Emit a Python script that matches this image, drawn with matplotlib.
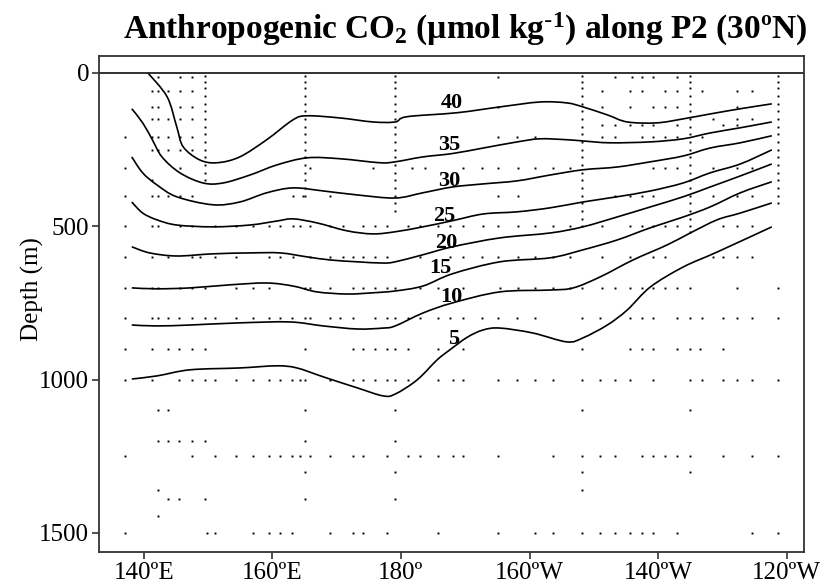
import matplotlib
matplotlib.use("Agg")
import matplotlib.pyplot as plt
from matplotlib.path import Path
from matplotlib.patches import PathPatch

plt.rcParams["font.family"] = ["Liberation Serif", "DejaVu Serif"]
plt.rcParams["mathtext.default"] = "regular"

# contour lines of anthropogenic CO2 (umol/kg): longitude (deg E) and depth (m)
c40_lon = [140.6, 143.6, 145.1, 146.1, 148.7, 151.4, 154.9, 159.1, 163.2, 165.4, 170.5, 175.6, 179.1, 180.9,
           188.7, 195.4, 201.6, 205.8, 208.3, 212.1, 215.2, 219.8, 223.9, 228.1, 232.8, 237.7]
c40_dep = [0, 78, 176, 241, 284, 293, 274, 218, 153, 140, 147, 160, 160, 143,
           130, 111, 95, 98, 111, 137, 160, 163, 150, 134, 117, 101]

c35_lon = [138.1, 139.8, 141.3, 142.8, 145.6, 149.2, 152.3, 156.5, 160.7, 165.4, 170.5, 176.7, 179.1, 183.4,
           188.0, 192.8, 198.1, 201.6, 205.8, 208.3, 212.5, 218.8, 223.9, 228.1, 232.8, 237.7]
c35_dep = [117, 163, 218, 274, 326, 359, 359, 333, 300, 277, 280, 293, 290, 274,
           263, 245, 225, 215, 218, 222, 228, 225, 215, 196, 179, 160]

c30_lon = [138.1, 139.8, 142.0, 145.1, 150.7, 154.9, 159.1, 163.2, 167.9, 173.2, 179.1, 183.4, 188.0, 192.8,
           198.1, 203.2, 208.3, 213.6, 218.8, 223.9, 228.1, 232.8, 237.7]
c30_dep = [274, 326, 365, 404, 430, 421, 391, 375, 385, 398, 408, 391, 372, 362,
           352, 333, 316, 307, 290, 271, 245, 228, 205]

c25_lon = [138.1, 139.8, 142.0, 145.1, 150.7, 156.5, 160.7, 163.2, 166.9, 171.6, 175.6, 179.1, 183.4, 188.0,
           192.8, 198.1, 203.2, 208.3, 213.6, 218.8, 223.9, 228.1, 232.8, 237.7]
c25_dep = [421, 457, 479, 496, 502, 496, 483, 476, 489, 515, 525, 518, 502, 482,
           460, 453, 440, 421, 404, 385, 359, 326, 297, 251]

c20_lon = [138.1, 140.9, 145.1, 150.7, 156.5, 161.2, 165.4, 169.0, 173.2, 177.2, 179.1, 183.4, 188.0, 195.4,
           203.2, 208.3, 213.6, 218.8, 223.9, 228.1, 232.8, 237.7]
c20_dep = [567, 587, 597, 590, 587, 587, 600, 610, 616, 620, 616, 593, 567, 538,
           522, 502, 470, 437, 404, 372, 336, 297]

c15_lon = [138.1, 142.0, 147.2, 153.4, 159.1, 163.2, 166.9, 171.6, 175.6, 179.1, 183.4, 188.0, 195.4, 203.2,
           208.3, 213.6, 218.8, 223.9, 228.1, 232.8, 237.7]
c15_dep = [701, 704, 701, 691, 685, 695, 714, 721, 717, 711, 695, 655, 616, 603,
           577, 545, 505, 470, 437, 391, 355]

c10_lon = [138.1, 142.0, 147.2, 154.9, 162.7, 167.9, 173.2, 177.2, 179.1, 183.4, 188.0, 195.4, 203.2, 206.8,
           211.0, 216.1, 221.4, 225.0, 229.2, 232.8, 237.7]
c10_dep = [822, 825, 822, 815, 812, 825, 835, 832, 825, 783, 750, 714, 708, 701,
           665, 610, 561, 522, 479, 457, 424]

c5_lon = [138.1, 142.0, 147.2, 154.9, 160.7, 163.8, 167.9, 173.2, 177.2, 179.1, 182.5, 185.6, 187.6, 190.3,
          192.8, 195.4, 200.5, 205.8, 208.3, 212.1, 215.2, 218.8, 223.9, 229.2, 237.7]
c5_dep = [998, 988, 968, 962, 955, 962, 991, 1027, 1053, 1047, 1001, 936, 903, 862,
          838, 832, 848, 877, 864, 822, 773, 698, 633, 584, 502]

levels = [40, 35, 30, 25, 20, 15, 10, 5]
label_lon = [187.9, 187.5, 187.5, 186.7, 187.0, 186.2, 187.8, 188.2]
label_dep = [98, 235, 352, 466, 554, 636, 730, 867]

# bottle samples: rows of roughly constant depth
row_depths = [15, 60, 110, 150, 170, 210, 250, 310, 350, 400, 500, 600, 700, 800, 900, 1000,
              1100, 1200, 1250, 1300, 1360, 1390, 1445, 1500]
row_lons = [
    [142.2, 145.6, 147.5, 195.1, 213.3, 216.0, 217.5, 219.2, 222.9],
    [141.2, 142.2, 143.7, 145.6, 147.5, 211.3, 215.6, 217.5, 221.1, 222.9, 226.8, 232.3, 234.6],
    [141.2, 142.2, 145.6, 147.5, 195.1, 211.3, 215.6, 219.2, 221.1, 222.9, 232.3],
    [141.2, 142.2, 143.7, 145.6, 147.5, 228.6, 232.3, 234.6],
    [211.3, 213.3, 215.6, 217.5, 219.2, 222.9, 230.1, 232.3],
    [137.0, 141.2, 142.2, 143.7, 145.6, 147.5, 195.1, 198.1, 200.9, 211.3, 213.3, 217.5, 219.2, 221.1,
     222.9, 226.8],
    [141.2, 142.2, 143.7, 145.6, 147.5],
    [137.0, 145.6, 165.8, 175.6, 181.7, 183.8, 189.6, 192.6, 195.1, 198.2, 200.9, 203.7, 206.3, 219.2,
     221.1, 222.9, 228.6, 232.3, 234.6],
    [141.2],
    [137.0, 141.2, 142.2, 143.7, 145.6, 147.5, 163.2, 164.7, 169.0, 195.1, 198.2, 213.3, 215.6, 217.5,
     219.2, 228.6, 232.3, 234.6],
    [137.0, 141.2, 142.2, 145.6, 147.5, 151.1, 154.3, 157.0, 159.5, 161.2, 163.2, 164.3, 165.8, 169.0,
     171.0, 174.1, 175.9, 177.8, 181.1, 183.0, 185.8, 187.6, 189.6, 192.8, 195.1, 198.2, 200.9, 203.7,
     206.3, 211.3, 215.6, 217.5, 219.2, 221.1, 222.9, 230.1, 232.3, 234.6],
    [137.0, 141.2, 143.7, 147.5, 148.7, 151.1, 154.3, 159.5, 161.2, 163.2, 165.8, 169.0, 171.0, 172.5,
     174.1, 175.9, 177.8, 183.0, 187.6, 189.6, 192.6, 195.1, 198.2, 200.9, 203.7, 206.3, 211.3, 215.6,
     219.2, 221.1, 228.6, 230.1, 232.3, 234.6],
    [137.0, 141.2, 142.2, 145.6, 147.5, 149.5, 154.3, 157.0, 159.5, 165.1, 165.8, 169.0, 172.5, 174.1,
     175.9, 177.8, 179.1, 183.0, 185.8, 189.6, 195.4, 198.2, 200.9, 203.7, 206.3, 208.2, 211.3, 213.3,
     215.6, 217.5, 219.2, 221.1, 222.9, 225.0, 232.3, 238.7],
    [137.0, 141.2, 142.2, 143.7, 145.4, 147.5, 149.5, 151.1, 154.3, 157.0, 159.5, 161.2, 163.0, 165.1,
     165.8, 169.0, 170.5, 172.5, 175.9, 177.8, 179.1, 181.1, 183.0, 185.8, 187.6, 189.6, 192.6, 195.1,
     198.1, 200.9, 208.2, 211.0, 215.6, 217.5, 219.2, 222.9, 225.0, 226.8, 230.1, 232.3, 234.6, 238.7],
    [137.0, 141.2, 143.7, 145.4, 147.5, 149.5, 165.1, 172.5, 174.1, 175.9, 177.8, 179.1, 181.1, 185.8,
     189.6, 208.2, 215.6, 217.5, 219.2, 222.9, 225.0, 226.5, 230.1],
    [137.0, 141.2, 145.4, 147.5, 149.5, 151.1, 154.3, 157.0, 159.5, 161.2, 163.0, 164.3, 165.1, 169.0,
     172.5, 174.1, 175.9, 177.8, 179.1, 181.1, 185.8, 188.1, 189.6, 195.1, 198.1, 200.9, 203.7, 208.2,
     211.0, 213.3, 215.6, 219.2, 225.0, 226.8, 230.1, 232.3, 234.6, 238.7],
    [142.2, 143.7, 165.1, 179.1, 208.2, 225.0],
    [142.2, 143.7, 145.4, 147.5, 149.5, 165.1, 179.1],
    [137.0, 147.5, 151.1, 154.3, 157.0, 159.5, 161.2, 163.0, 164.3, 165.8, 169.0, 172.5, 174.1, 177.8,
     181.1, 183.0, 185.8, 188.1, 189.6, 195.1, 203.7, 208.2, 211.0, 213.3, 217.5, 219.2, 221.1, 222.9,
     225.0, 230.1, 234.6, 238.7],
    [165.1, 179.1, 208.2, 225.0],
    [142.2, 208.2],
    [143.7, 145.4, 149.5, 165.1, 179.1],
    [142.2],
    [137.0, 149.8, 151.1, 157.0, 159.5, 161.2, 163.0, 169.0, 172.5, 174.1, 177.8, 185.8, 195.1, 200.9,
     203.7, 208.2, 211.0, 213.3, 215.6, 217.5, 219.2, 222.9, 234.6, 238.7],
]

# densely sampled casts in the upper ocean
cast_lons = [149.5, 165.1, 179.1, 208.2, 225.0, 238.7]
cast_max_dep = [350, 420, 450, 500, 520, 430]
cast_depths = [10, 30, 50, 75, 100, 125, 150, 175, 200, 225, 250, 275, 300, 325, 350, 375, 400,
               425, 450, 475, 500, 520]

xtick_vals = [140, 160, 180, 200, 220, 240]
xtick_labels = ["140ºE", "160ºE", "180º", "160ºW", "140ºW", "120ºW"]
ytick_vals = [0, 500, 1000, 1500]

contours = [(c40_lon, c40_dep), (c35_lon, c35_dep), (c30_lon, c30_dep), (c25_lon, c25_dep),
            (c20_lon, c20_dep), (c15_lon, c15_dep), (c10_lon, c10_dep), (c5_lon, c5_dep)]


def smooth_path(xs, ys):
    # catmull-rom through the traced points, drawn as cubic beziers
    pts = list(zip(xs, ys))
    pts = [pts[0]] + pts + [pts[-1]]
    verts = [pts[1]]
    codes = [Path.MOVETO]
    for i in range(1, len(pts) - 2):
        p0, p1, p2, p3 = pts[i - 1], pts[i], pts[i + 1], pts[i + 2]
        c1 = (p1[0] + (p2[0] - p0[0]) / 6, p1[1] + (p2[1] - p0[1]) / 6)
        c2 = (p2[0] - (p3[0] - p1[0]) / 6, p2[1] - (p3[1] - p1[1]) / 6)
        verts += [c1, c2, p2]
        codes += [Path.CURVE4] * 3
    return Path(verts, codes)


fig = plt.figure(figsize=(8.29, 5.85), dpi=100)
ax = fig.add_axes([0.1194, 0.0564, 0.8504, 0.8479])

for dep, lons in zip(row_depths, row_lons):
    ax.plot(lons, [dep] * len(lons), ls="none", marker="s", ms=1.4, color="black", mec="none")

for lon, dmax in zip(cast_lons, cast_max_dep):
    ds = [d for d in cast_depths if d <= dmax]
    ax.plot([lon] * len(ds), ds, ls="none", marker="s", ms=1.4, color="black", mec="none")

for (lons, deps) in contours:
    ax.add_patch(PathPatch(smooth_path(lons, deps), fill=False, edgecolor="black", lw=1.2))

for lev, lx, ly in zip(levels, label_lon, label_dep):
    ax.text(lx, ly, str(lev), fontsize=16, fontweight="bold", ha="center", va="center")

ax.axhline(0, color="#222222", lw=1.3)

ax.set_xlim(133.0, 242.7)
ax.set_ylim(1562, -55)
ax.set_xticks(xtick_vals)
ax.set_xticklabels(xtick_labels)
ax.set_yticks(ytick_vals)
ax.tick_params(labelsize=18, length=5, width=1.1, direction="out", colors="#222222",
               labelcolor="black", pad=2)
for sp in ax.spines.values():
    sp.set_linewidth(1.3)
    sp.set_color("#333333")

fig.text(0.039, 0.506, "Depth (m)", rotation=90, fontsize=18, ha="center", va="center")
fig.text(0.561, 0.949, r"Anthropogenic CO$_2$ (µmol kg$^{\text{-}1}$) along P2 (30ºN)",
         fontsize=24, fontweight="bold", ha="center", va="center")

fig.savefig("out.png", dpi=100)
